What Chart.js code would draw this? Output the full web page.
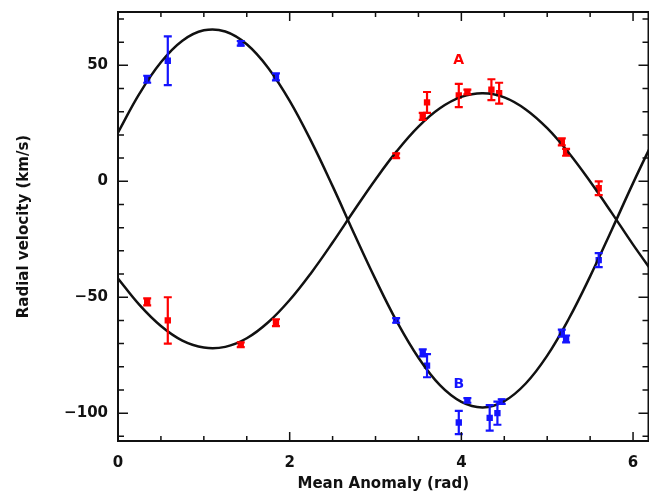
<!DOCTYPE html>
<html><head><meta charset="utf-8">
<script src="https://cdn.jsdelivr.net/npm/chart.js@4.4.0/dist/chart.umd.min.js"></script>
<style>html,body{margin:0;padding:0;background:#fff;overflow:hidden}#wrap{width:649px;height:493px;overflow:hidden}</style>
</head><body><div id="wrap"><canvas id="c" width="653" height="493"></canvas></div>
<script>
// Fitted curves
const curveX    = [0,0.25,0.5,0.75,1,1.25,1.5,1.75,2,2.25,2.5,2.75,3,3.25,3.5,3.75,4,4.25,4.5,4.75,5,5.25,5.5,5.75,6,6.25];
const curveBlue = [21,37.8,51.3,60.6,65.1,64.6,59.1,48.9,34.7,17.3,-2.1,-22.5,-42.3,-60.6,-76.1,-87.9,-95.1,-97.5,-94.8,-87.2,-75.2,-59.4,-41,-21.1,-0.8,18.6];
const curveRed  = [-41.9,-53.3,-62.4,-68.7,-71.7,-71.4,-67.7,-60.8,-51.2,-39.5,-26.4,-12.6,0.8,13.1,23.6,31.5,36.4,38,36.2,31,22.9,12.3,-0.1,-13.5,-27.3,-40.3];

// Component B (blue) measurements
const blueX   = [0.34,0.58,1.43,1.84,3.24,3.55,3.60,3.97,4.07,4.33,4.42,4.47,5.17,5.22,5.60];
const blueY   = [44,52,59.5,45,-60,-74,-79.5,-104,-94.5,-102,-100,-95,-65.5,-68,-34];
const blueErr = [1.5,10.5,1,1.5,1,1.5,5,5,1,5.5,5,1,1.5,1.5,3];

// Component A (red) measurements
const redX   = [0.34,0.58,1.43,1.84,3.24,3.55,3.60,3.97,4.07,4.35,4.44,5.17,5.22,5.60];
const redY   = [-52,-60,-70.5,-61,11,28,34,37,38.5,39.5,38,17,12.5,-3];
const redErr = [1.5,10,1,1.5,1,1.5,4.5,5,1,4.5,4.5,1.5,1.5,3];

// Annotations
const annotText  = ['A','B'];
const annotX     = [3.97,3.97];
const annotY     = [52,-87.5];
const annotColor = ['rgb(255,0,0)','rgb(20,20,255)'];

const xTicks = [0,2,4,6];
const yTicks = [-100,-50,0,50];

const RED = 'rgb(255,0,0)', BLUE = 'rgb(20,20,255)';
const FONT = 'DejaVu Sans';

const pts = (xs, ys) => xs.map((v,i)=>({x:v, y:ys[i]}));

const framePlugin = {
  id:'frame',
  afterDatasetsDraw(chart){
    const {ctx, chartArea:a, scales:{x, y}} = chart;
    // error bars
    chart.data.datasets.forEach(ds=>{
      if(!ds.err) return;
      ctx.save();
      ctx.strokeStyle = ds.borderColor; ctx.lineWidth = 2.2;
      ds.data.forEach((p,j)=>{
        const e = ds.err[j];
        const px = x.getPixelForValue(p.x);
        const y1 = y.getPixelForValue(p.y+e), y2 = y.getPixelForValue(p.y-e);
        ctx.beginPath();
        ctx.moveTo(px,y1); ctx.lineTo(px,y2);
        ctx.moveTo(px-4,y1); ctx.lineTo(px+4,y1);
        ctx.moveTo(px-4,y2); ctx.lineTo(px+4,y2);
        ctx.stroke();
      });
      ctx.restore();
    });
    // annotations
    ctx.save();
    ctx.font = 'bold 14px ' + FONT;
    ctx.textAlign = 'center'; ctx.textBaseline = 'middle';
    annotText.forEach((t,i)=>{
      ctx.fillStyle = annotColor[i];
      ctx.fillText(t, x.getPixelForValue(annotX[i]), y.getPixelForValue(annotY[i]));
    });
    ctx.restore();
    // frame + inward ticks
    ctx.save();
    ctx.strokeStyle = '#111'; ctx.lineWidth = 2;
    ctx.strokeRect(a.left, a.top, a.right-a.left, a.bottom-a.top);
    ctx.lineWidth = 1.5;
    ctx.beginPath();
    for(let v=0; v<=x.max+1e-9; v+=0.5){
      const px = x.getPixelForValue(v);
      const L = (Math.abs(v%2)<1e-9) ? 9 : 5;
      ctx.moveTo(px,a.bottom); ctx.lineTo(px,a.bottom-L);
      ctx.moveTo(px,a.top); ctx.lineTo(px,a.top+L);
    }
    for(let v=-110; v<=y.max; v+=10){
      const py = y.getPixelForValue(v);
      const L = (v%50===0) ? 10 : 6;
      ctx.moveTo(a.left,py); ctx.lineTo(a.left+L,py);
      ctx.moveTo(a.right,py); ctx.lineTo(a.right-L,py);
    }
    ctx.stroke();
    ctx.restore();
  }
};

new Chart(document.getElementById('c'), {
  type:'scatter',
  data:{
    datasets:[
      {data:pts(curveX,curveBlue), showLine:true, borderColor:'#111', borderWidth:2.5, pointRadius:0, tension:0.4, fill:false},
      {data:pts(curveX,curveRed),  showLine:true, borderColor:'#111', borderWidth:2.5, pointRadius:0, tension:0.4, fill:false},
      {data:pts(blueX,blueY), err:blueErr, borderColor:BLUE, backgroundColor:BLUE, pointStyle:'rect', pointRadius:4.5, borderWidth:0},
      {data:pts(redX,redY),   err:redErr,  borderColor:RED,  backgroundColor:RED,  pointStyle:'rect', pointRadius:4.5, borderWidth:0}
    ]
  },
  options:{
    responsive:false, animation:false,
    layout:{padding:{top:12, right:1.5, left:0, bottom:0}},
    plugins:{legend:{display:false}, tooltip:{enabled:false}},
    scales:{
      x:{
        type:'linear', min:0, max:6.18,
        grid:{display:false, drawTicks:false},
        border:{display:false},
        afterBuildTicks:s=>{ s.ticks = xTicks.map(v=>({value:v})); },
        afterFit:s=>{ s.height = 52; s.paddingLeft = 0; s.paddingRight = 0; },
        ticks:{padding:13, color:'#111', maxRotation:0, font:{family:FONT, weight:'bold', size:15}},
        title:{display:true, text:'Mean Anomaly (rad)', color:'#111', padding:{top:0,bottom:0}, font:{family:FONT, weight:'bold', size:15}}
      },
      y:{
        type:'linear', min:-112, max:73,
        grid:{display:false, drawTicks:false},
        border:{display:false},
        afterBuildTicks:s=>{ s.ticks = yTicks.map(v=>({value:v})); },
        afterFit:s=>{ s.width = 118; s.paddingTop = 0; s.paddingBottom = 0; },
        ticks:{padding:10, color:'#111', font:{family:FONT, weight:'bold', size:15}, callback:v=> v<0 ? '\u2212'+Math.abs(v) : String(v)},
        title:{display:true, text:'Radial velocity (km/s)', color:'#111', padding:{top:15,bottom:0}, font:{family:FONT, weight:'bold', size:15}}
      }
    }
  },
  plugins:[framePlugin]
});
</script></body></html>
